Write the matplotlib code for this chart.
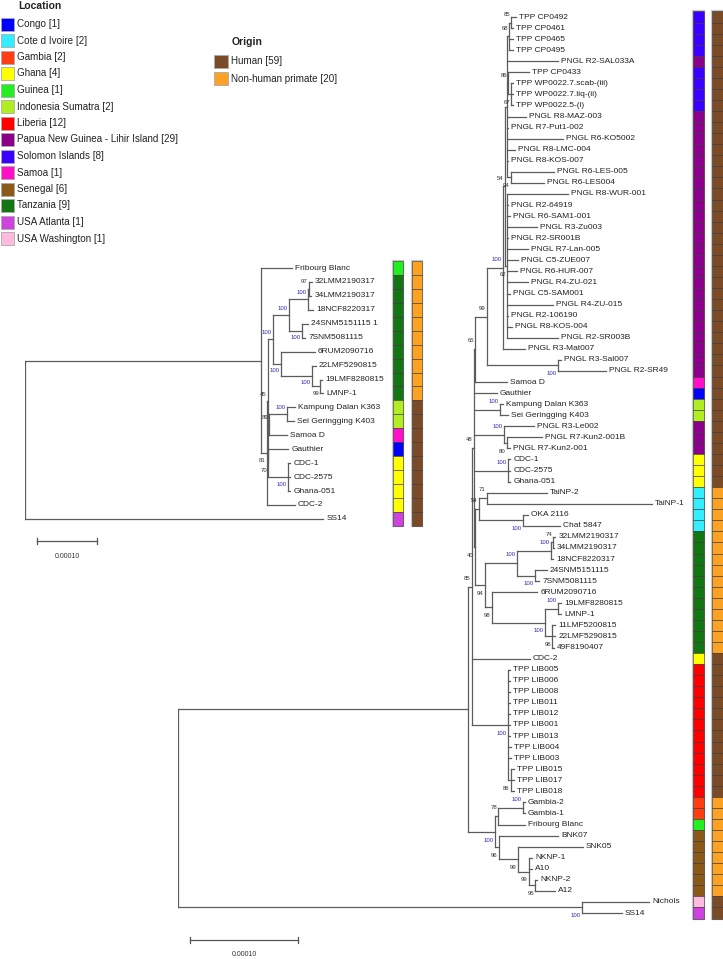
import matplotlib
matplotlib.use('Agg')
import matplotlib.pyplot as plt
from matplotlib.patches import Rectangle
from matplotlib import transforms

plt.rcParams['font.family'] = ['Liberation Sans', 'DejaVu Sans']

# ---------------- data ----------------
# branch lengths in units of 1e-5 substitutions/site, internal labels = bootstrap
big_newick = """
((((((((((('TPP CP0492':0.46,'TPP CP0461':0.19)85:0.19,'TPP CP0465':0.37,'TPP CP0495':0.37)68:0.19,
'PNGL R2-SAL033A':4.72,
('TPP CP0433':1.94,('TPP WP0022.7.scab-(iii)':0.19,'TPP WP0022.7.liq-(ii)':0.19,'TPP WP0022.5-(i)':0.19)67:0.28)86:0.09,
'PNGL R8-MAZ-003':1.76,'PNGL R7-Put1-002':0.05,'PNGL R6-KO5002':5.19,'PNGL R8-LMC-004':0.74,'PNGL R8-KOS-007':0.05,
('PNGL R6-LES-005':3.98,'PNGL R6-LES004':3.06)94:0.37):0.19,
('PNGL R8-WUR-001':5.65,'PNGL R2-64919':0.09,'PNGL R6-SAM1-001':0.28,'PNGL R3-Zu003':2.78,'PNGL R2-SR001B':0.09,
'PNGL R7-Lan-005':1.94,'PNGL C5-ZUE007':1.02,'PNGL R6-HUR-007':0.93,'PNGL R4-ZU-021':1.94,'PNGL C5-SAM001':0.28,
'PNGL R4-ZU-015':4.26,'PNGL R2-106190':0.09,'PNGL R8-KOS-004':0.46,'PNGL R2-SR003B':4.72)62:0.19)54:0.19,
'PNGL R3-Mat007':2.04)100:1.48,
('PNGL R3-Sal007':0.28,'PNGL R2-SR49':4.44)100:6.57)99:1.11,
'Samoa D':2.96)65:0.09,
'Gauthier':2.13,
('Kampung Dalan K363':0.28,'Sei Geringging K403':0.74)100:2.41,
('PNGL R3-Le002':2.78,('PNGL R7-Kun2-001B':3.24,'PNGL R7-Kun2-001':0.28)80:0.28)100:2.78,
('CDC-1':0.19,'CDC-2575':0.19,'Ghana-051':0.19)100:3.15,
((('TaiNP-2':5.56,'TaiNP-1':15.28)71:0.74,('OKA 2116':0.46,'Chat 5847':3.43)100:4.07)54:0.37,
(((('32LMM2190317':0.19,'34LMM2190317':0.09)74:0.19,'18NCF8220317':0.19)100:3.15,
('24SNM5151115':1.11,'7SNM5081115':0.37)100:1.67)100:2.96,
('6RUM2090716':4.17,(('19LMF8280815':0.28,'LMNP-1':0.28)100:1.20,
('11LMF5200815':0.28,'22LMF5290815':0.28,'49F8190407':0.19)96:0.65)100:4.91)98:0.65)94:0.93)40:0.09)48:0.19,
'CDC-2':5.37,
('TPP LIB005':0.19,'TPP LIB006':0.19,'TPP LIB008':0.19,'TPP LIB011':0.19,'TPP LIB012':0.19,
'TPP LIB001':0.19,'TPP LIB013':0.19,'TPP LIB004':0.28,'TPP LIB003':0.28,
('TPP LIB015':0.28,'TPP LIB017':0.28,'TPP LIB018':0.28)86:0.28)100:3.33)85:0.37,
((('Gambia-2':0.19,'Gambia-1':0.19)100:2.31,'Fribourg Blanc':2.50)78:0.28,
('BNK07':5.46,('SNK05':6.02,('NKNP-1':0.28,'A10':0.28,('NKNP-2':0.19,'A12':1.85)95:0.56)99:1.02)99:1.76)96:0.37)100:2.50):26.85,
('Nichols':6.20,'SS14':3.70)100:37.41);
"""

small_newick = """
(('Fribourg Blanc':5.2,
(((((('32LMM2190317':0.5,'34LMM2190317':0.4)97:0.1,'18NCF8220317':0.8)100:3.2,
('24SNM5151115 1':1.0,'7SNM5081115':0.5)100:2.2)100:2.7,
('6RUM2090716':5.6,('22LMF5290815':0.7,('19LMF8280815':0.3,'LMNP-1':0.5)99:1.4)100:5.1)100:1.4)100:0.8,
(('Kampung Dalan K363':1.3,'Sei Geringging K403':1.1)100:3.0,'Samoa D':3.0)89:0.2,
('Gauthier':3.3,('CDC-1':0.4,'CDC-2575':0.4,'Ghana-051':0.4)100:3.3)70:0.05)45:0.2,
'CDC-2':4.7)81:1.0):39.3,
'SS14':49.7);
"""

# location / origin of each tip, in tree order
big_location = [
    'SOL', 'SOL', 'SOL', 'SOL', 'PNG', 'SOL', 'SOL', 'SOL', 'SOL',
    'PNG', 'PNG', 'PNG', 'PNG', 'PNG', 'PNG', 'PNG', 'PNG', 'PNG', 'PNG', 'PNG', 'PNG',
    'PNG', 'PNG', 'PNG', 'PNG', 'PNG', 'PNG', 'PNG', 'PNG', 'PNG', 'PNG', 'PNG', 'PNG',
    'SAM', 'CON', 'IND', 'IND', 'PNG', 'PNG', 'PNG', 'GHA', 'GHA', 'GHA',
    'CIV', 'CIV', 'CIV', 'CIV',
    'TAN', 'TAN', 'TAN', 'TAN', 'TAN', 'TAN', 'TAN', 'TAN', 'TAN', 'TAN', 'TAN',
    'GHA',
    'LIB', 'LIB', 'LIB', 'LIB', 'LIB', 'LIB', 'LIB', 'LIB', 'LIB', 'LIB', 'LIB', 'LIB',
    'GAM', 'GAM', 'GUI', 'SEN', 'SEN', 'SEN', 'SEN', 'SEN', 'SEN', 'USW', 'USA',
]
big_origin = [
    'H', 'H', 'H', 'H', 'H', 'H', 'H', 'H', 'H',
    'H', 'H', 'H', 'H', 'H', 'H', 'H', 'H', 'H', 'H', 'H', 'H',
    'H', 'H', 'H', 'H', 'H', 'H', 'H', 'H', 'H', 'H', 'H', 'H',
    'H', 'H', 'H', 'H', 'H', 'H', 'H', 'H', 'H', 'H',
    'N', 'N', 'N', 'N',
    'N', 'N', 'N', 'N', 'N', 'N', 'N', 'N', 'N', 'N', 'N',
    'H',
    'H', 'H', 'H', 'H', 'H', 'H', 'H', 'H', 'H', 'H', 'H', 'H',
    'N', 'N', 'N', 'N', 'N', 'N', 'N', 'N', 'N', 'H', 'H',
]
small_location = ['GUI', 'TAN', 'TAN', 'TAN', 'TAN', 'TAN', 'TAN', 'TAN', 'TAN', 'TAN',
                  'IND', 'IND', 'SAM', 'CON', 'GHA', 'GHA', 'GHA', 'GHA', 'USA']
small_origin = ['N', 'N', 'N', 'N', 'N', 'N', 'N', 'N', 'N', 'N',
                'H', 'H', 'H', 'H', 'H', 'H', 'H', 'H', 'H']

loc_codes = ['CON', 'CIV', 'GAM', 'GHA', 'GUI', 'IND', 'LIB', 'PNG', 'SOL', 'SAM',
             'SEN', 'TAN', 'USA', 'USW']
loc_names = ['Congo', 'Cote d Ivoire', 'Gambia', 'Ghana', 'Guinea', 'Indonesia Sumatra',
             'Liberia', 'Papua New Guinea - Lihir Island', 'Solomon Islands', 'Samoa',
             'Senegal', 'Tanzania', 'USA Atlanta', 'USA Washington']
loc_counts = [1, 2, 2, 4, 1, 2, 12, 29, 8, 1, 6, 9, 1, 1]
loc_colors = ['#0000ff', '#33eeff', '#ff3c12', '#ffff00', '#22ee22', '#b0ee22',
              '#ff0000', '#8b008b', '#3a00ff', '#ff10c8', '#8b5a1a', '#137513',
              '#cc44dd', '#ffbbdd']
org_codes = ['H', 'N']
org_names = ['Human', 'Non-human primate']
org_counts = [59, 20]
org_colors = ['#7b4a26', '#fba225']

LOC = dict(zip(loc_codes, loc_colors))
ORG = dict(zip(org_codes, org_colors))


# ---------------- tree helpers ----------------
def parse_newick(text):
    s = ''.join(line.strip() for line in text.strip().splitlines())
    pos = 0

    def node():
        nonlocal pos
        n = {'children': [], 'name': '', 'length': 0.0}
        if s[pos] == '(':
            pos += 1
            while True:
                n['children'].append(node())
                if s[pos] == ',':
                    pos += 1
                else:
                    pos += 1  # ')'
                    break
        if s[pos] == "'":
            end = s.index("'", pos + 1)
            n['name'] = s[pos + 1:end]
            pos = end + 1
        else:
            start = pos
            while s[pos] not in ':,);':
                pos += 1
            n['name'] = s[start:pos]
        if s[pos] == ':':
            pos += 1
            start = pos
            while s[pos] not in ',);':
                pos += 1
            n['length'] = float(s[start:pos])
        return n

    return node()


def layout(n, x0, tips):
    n['x'] = x0 + n['length']
    if not n['children']:
        n['y'] = len(tips)
        tips.append(n)
    else:
        for c in n['children']:
            layout(c, n['x'], tips)
        n['y'] = (n['children'][0]['y'] + n['children'][-1]['y']) / 2


def draw_tree(ax, n, boot_dy, lc='#5c5c5c', fs=6.0, bfs=4.3):
    kids = n['children']
    if not kids:
        return
    ax.plot([n['x'], n['x']], [kids[0]['y'], kids[-1]['y']], color=lc, lw=0.9)
    for i, c in enumerate(kids):
        ax.plot([n['x'], c['x']], [c['y'], c['y']], color=lc, lw=0.9)
        if c['children']:
            if c['name']:
                dy = -boot_dy if i == len(kids) - 1 else boot_dy
                col = '#2b2bb0' if c['name'] == '100' else '#333333'
                ax.annotate(c['name'], (c['x'], c['y']), xytext=(-0.8, dy),
                            textcoords='offset points', ha='right', va='center',
                            fontsize=bfs, color=col)
            draw_tree(ax, c, boot_dy, lc, fs, bfs)
        else:
            ax.annotate(c['name'], (c['x'], c['y']), xytext=(2.2, 0),
                        textcoords='offset points', ha='left', va='center',
                        fontsize=fs, color='#222222')


def draw_strips(ax, locs, orgs, f_loc, f_org, fw):
    tr = transforms.blended_transform_factory(ax.transAxes, ax.transData)
    n = len(locs)
    for f in (f_loc, f_org):
        ax.add_patch(Rectangle((f, -0.5), fw, n, transform=tr, facecolor='none',
                               edgecolor='#c8c8c8', lw=1.6, clip_on=False))
    for i in range(n):
        ax.add_patch(Rectangle((f_loc, i - 0.5), fw, 1, transform=tr,
                               facecolor=LOC[locs[i]], edgecolor='#333333', lw=0.4,
                               clip_on=False))
        ax.add_patch(Rectangle((f_org, i - 0.5), fw, 1, transform=tr,
                               facecolor=ORG[orgs[i]], edgecolor='#333333', lw=0.4,
                               clip_on=False))


def scale_bar(ax, x0, y, length, ylab, tick):
    ax.plot([x0, x0 + length], [y, y], color='#555555', lw=0.9)
    for xe in (x0, x0 + length):
        ax.plot([xe, xe], [y - tick, y + tick], color='#555555', lw=0.9)
    ax.text(x0 + length / 2, ylab, '%.5f' % (length * 1e-5), ha='center', va='center',
            fontsize=5, color='#333333')


# ---------------- figure ----------------
W, H = 723, 959
fig = plt.figure(figsize=(W / 100, H / 100), dpi=100)


def px_axes(x0, y0, x1, y1):
    return fig.add_axes([x0 / W, 1 - y1 / H, (x1 - x0) / W, (y1 - y0) / H])


# legend
lax = px_axes(0, 0, W, H)
lax.set_xlim(0, W)
lax.set_ylim(H, 0)
lax.axis('off')
lax.text(18, 6, 'Location', fontsize=7.5, fontweight='bold', va='center', color='#222222')
for i, (name, cnt, col) in enumerate(zip(loc_names, loc_counts, loc_colors)):
    yc = 24 + 16.5 * i
    lax.add_patch(Rectangle((0.5, yc - 6.5), 13, 13, facecolor=col, edgecolor='#aaaaaa', lw=0.6))
    lax.text(17, yc, '%s [%d]' % (name, cnt), fontsize=7.1, va='center', color='#222222')
lax.text(232, 42, 'Origin', fontsize=7.5, fontweight='bold', va='center', color='#222222')
for i, (name, cnt, col) in enumerate(zip(org_names, org_counts, org_colors)):
    yc = 61 + 17.5 * i
    lax.add_patch(Rectangle((213.5, yc - 6.5), 14, 13, facecolor=col, edgecolor='#aaaaaa', lw=0.6))
    lax.text(231, yc, '%s [%d]' % (name, cnt), fontsize=7.1, va='center', color='#222222')

# big tree: root at x=178 px, 10.8 px per 1e-5, rows every 11.06 px from y=17
big = parse_newick(big_newick)
big_tips = []
layout(big, 0.0, big_tips)
assert len(big_tips) == len(big_location) == len(big_origin)
bpx, bpitch = 10.8, 11.062
bax = px_axes(178, 0, W, H)
bax.set_xlim(0, (W - 178) / bpx)
bax.set_ylim((H - 17) / bpitch, -17 / bpitch)
bax.axis('off')
draw_tree(bax, big, 6.0)
draw_strips(bax, big_location, big_origin, (693 - 178) / (W - 178), (712 - 178) / (W - 178),
            11 / (W - 178))
scale_bar(bax, 12 / bpx, (940 - 17) / bpitch, 10, (954 - 17) / bpitch, 0.3)

# small tree: root at x=25 px, 6 px per 1e-5, rows every 13.94 px from y=268
small = parse_newick(small_newick)
small_tips = []
layout(small, 0.0, small_tips)
assert len(small_tips) == len(small_location) == len(small_origin)
spx, spitch = 6.0, 13.94
sax = px_axes(25, 250, 430, 575)
sax.set_xlim(0, 405 / spx)
sax.set_ylim((575 - 268) / spitch, (250 - 268) / spitch)
sax.axis('off')
draw_tree(sax, small, 5.0)
draw_strips(sax, small_location, small_origin, (393 - 25) / 405, (412 - 25) / 405, 10 / 405)
scale_bar(sax, 12 / spx, (541 - 268) / spitch, 10, (556 - 268) / spitch, 0.25)

fig.savefig('out.png', dpi=100, facecolor='white')
